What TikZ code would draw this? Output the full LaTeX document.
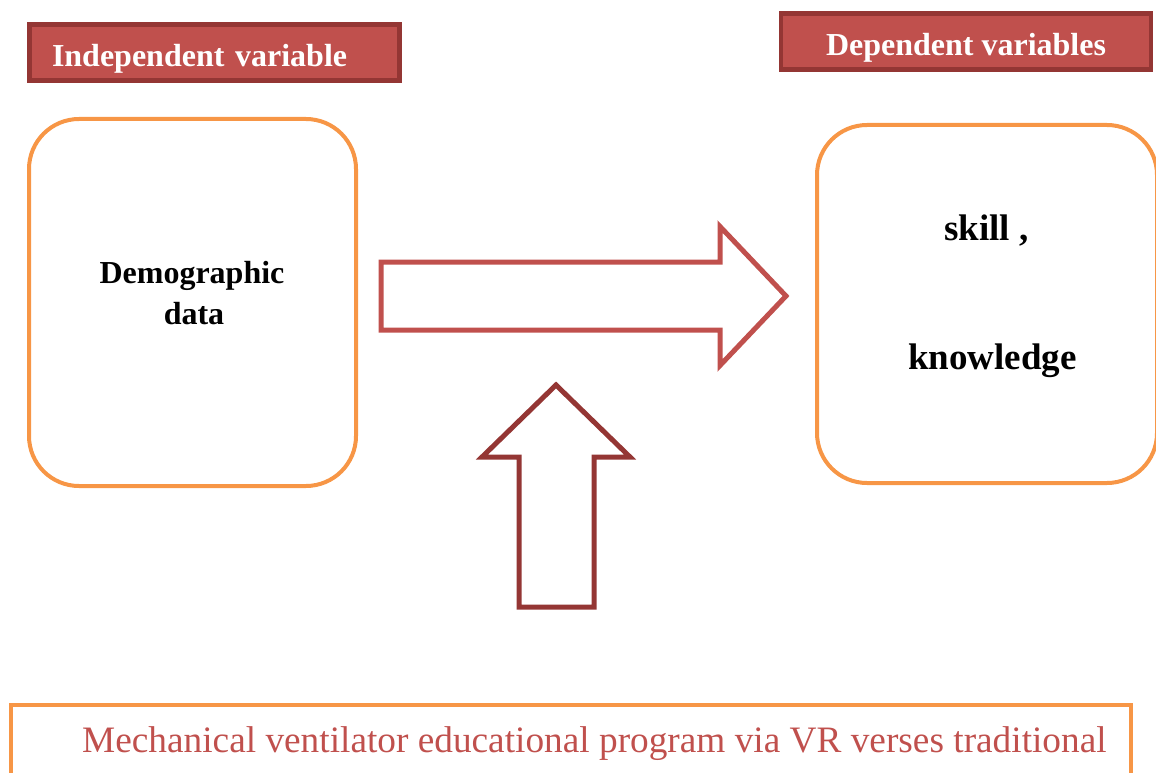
\documentclass[tikz,border=0pt]{standalone}
\usepackage{fontspec}
\setmainfont{Liberation Serif}
\usetikzlibrary{positioning}
\definecolor{hdrred}{HTML}{C0504D}
\definecolor{hdrdark}{HTML}{943634}
\definecolor{boxorange}{HTML}{F79646}

\begin{document}
\begin{tikzpicture}[x=1pt, y=-1pt,
  header/.style={rectangle, draw=hdrdark, fill=hdrred, line width=4.5pt, minimum width=370pt, minimum height=56pt, inner sep=0pt, text=white, text height=28pt, text depth=0pt, font=\fontsize{32}{38}\selectfont\bfseries},
  varbox/.style={rectangle, rounded corners=50pt, draw=boxorange, line width=4pt, inner sep=0pt},
  vartext/.style={anchor=base, inner sep=0pt, font=\fontsize{32}{38}\selectfont\bfseries},
  fatarrow/.style={line width=5pt, line join=miter},
]
\useasboundingbox (0,0) rectangle (1156,773);
\clip (0,0) rectangle (1156,773);

% headers
\node[header, text width=325pt, align=left] (indep) at (214.5,52.5) {Independent variable};
\node[header] (dep) at (966,41.5) {Dependent variables};

% variable boxes
\node[varbox, minimum width=327pt, minimum height=367pt] (indbox) at (192.5,302.5) {};
\node[varbox, minimum width=340pt, minimum height=358pt] (depbox) at (987,304) {};

\node[vartext] (demo) at (192,283) {Demographic};
\node[vartext] (data) at (194,324) {data};
\node[vartext, font=\fontsize{37}{44}\selectfont\bfseries] (skill) at (986.5,240) {skill ,};
\node[vartext, font=\fontsize{37}{44}\selectfont\bfseries] (know) at (992.5,369) {knowledge};

% block arrows
\draw[fatarrow, draw=hdrred] (381,262) -- (720,262) -- (720,226.5) -- (786,296)
  -- (720,365.5) -- (720,330) -- (381,330) -- cycle;
\draw[fatarrow, draw=hdrdark] (519,607) -- (519,457) -- (482,457) -- (556,385)
  -- (630,457) -- (594,457) -- (594,607) -- cycle;

% program box
\node[rectangle, draw=boxorange, line width=4pt, minimum width=1120pt, minimum height=100pt] (prog) at (571,755) {};
\node[anchor=base west, inner sep=0pt, text=hdrred, font=\fontsize{37.3}{44}\selectfont] (progtext) at (82,752)
  {Mechanical ventilator educational program via VR verses traditional};
\end{tikzpicture}
\end{document}
